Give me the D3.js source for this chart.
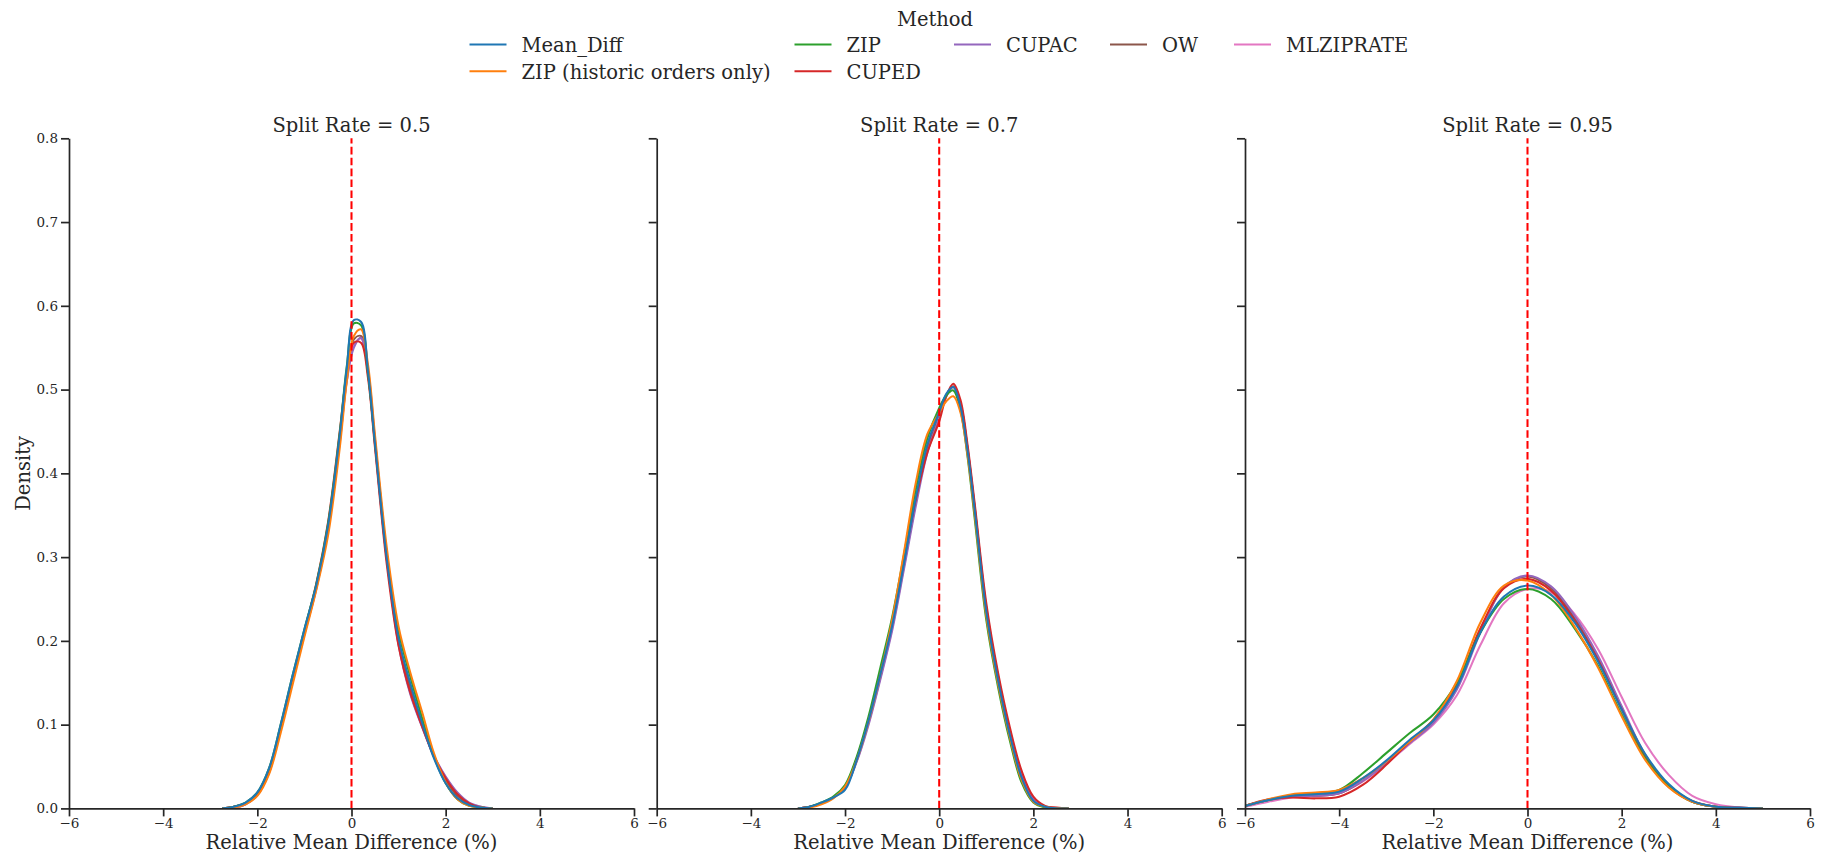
<!DOCTYPE html>
<html>
<head>
<meta charset="utf-8">
<script src="https://cdn.jsdelivr.net/npm/d3@7"></script>
<style>
  html, body { margin: 0; padding: 0; background: #ffffff; }
  svg { display: block; }
  text { font-family: "DejaVu Serif", serif; fill: #262626; }
</style>
</head>
<body>
<svg id="chart" width="1829" height="857"></svg>
<script>
// ---------------- data ----------------
const methods = ["Mean_Diff", "ZIP (historic orders only)", "ZIP", "CUPED", "CUPAC", "OW", "MLZIPRATE"];
const methodColors = ["#1f77b4", "#ff7f0e", "#2ca02c", "#d62728", "#9467bd", "#8c564b", "#e377c2"];
const splitRates = ["0.5", "0.7", "0.95"];
const xTicks = [-6, -4, -2, 0, 2, 4, 6];
const yTicks = [0.0, 0.1, 0.2, 0.3, 0.4, 0.5, 0.6, 0.7, 0.8];
const legendTitle = "Method";
const xLabel = "Relative Mean Difference (%)";
const yLabel = "Density";

// Split Rate = 0.5
const gridSplit05 = [-2.75,-2.5,-2.25,-2,-1.75,-1.5,-1.25,-1,-0.75,-0.5,-0.25,-0.1,0.05,0.2,0.35,0.5,0.75,1,1.25,1.5,1.75,2,2.25,2.5,2.75,3];
const s05_MeanDiff = [0.000,0.002,0.007,0.019,0.048,0.101,0.159,0.214,0.266,0.337,0.446,0.526,0.583,0.581,0.522,0.435,0.298,0.203,0.149,0.102,0.060,0.030,0.012,0.004,0.001,0.000];
const s05_ZIPhist   = [0.000,0.001,0.005,0.015,0.041,0.091,0.148,0.205,0.260,0.325,0.430,0.510,0.564,0.572,0.530,0.445,0.311,0.217,0.162,0.115,0.066,0.031,0.011,0.003,0.001,0.000];
const s05_ZIP       = [0.000,0.002,0.007,0.019,0.048,0.101,0.159,0.214,0.267,0.339,0.448,0.528,0.579,0.577,0.520,0.437,0.304,0.211,0.157,0.108,0.062,0.030,0.011,0.003,0.001,0.000];
const s05_CUPED     = [0.000,0.002,0.006,0.017,0.045,0.098,0.156,0.212,0.268,0.341,0.450,0.520,0.556,0.556,0.514,0.430,0.291,0.194,0.138,0.098,0.062,0.036,0.017,0.006,0.001,0.000];
const s05_CUPAC     = [0.000,0.001,0.005,0.016,0.043,0.096,0.153,0.208,0.262,0.332,0.436,0.510,0.550,0.562,0.524,0.440,0.300,0.195,0.136,0.097,0.063,0.038,0.019,0.007,0.002,0.000];
const s05_OW        = [0.000,0.002,0.006,0.017,0.045,0.098,0.156,0.211,0.265,0.336,0.443,0.517,0.560,0.564,0.519,0.434,0.297,0.199,0.143,0.100,0.062,0.034,0.015,0.005,0.001,0.000];
const s05_MLZIPRATE = [0.000,0.001,0.005,0.016,0.043,0.096,0.153,0.208,0.262,0.333,0.438,0.511,0.553,0.561,0.522,0.438,0.300,0.197,0.138,0.098,0.063,0.037,0.018,0.006,0.002,0.000];

// Split Rate = 0.7
const gridSplit07 = [-3.0,-2.75,-2.5,-2.25,-2,-1.75,-1.5,-1.25,-1,-0.75,-0.5,-0.25,0,0.15,0.3,0.45,0.6,0.75,1,1.25,1.5,1.75,2,2.25,2.5,2.75];
const s07_MeanDiff = [0.000,0.002,0.007,0.013,0.022,0.058,0.105,0.160,0.218,0.292,0.370,0.435,0.473,0.495,0.503,0.480,0.428,0.358,0.235,0.153,0.088,0.037,0.009,0.002,0.000,0.000];
const s07_ZIPhist   = [0.000,0.001,0.005,0.012,0.026,0.058,0.104,0.160,0.225,0.305,0.388,0.447,0.472,0.486,0.492,0.473,0.423,0.353,0.230,0.149,0.085,0.034,0.008,0.002,0.000,0.000];
const s07_ZIP       = [0.000,0.002,0.007,0.014,0.028,0.062,0.110,0.168,0.228,0.302,0.380,0.442,0.478,0.493,0.499,0.476,0.421,0.348,0.225,0.145,0.081,0.031,0.007,0.001,0.000,0.000];
const s07_CUPED     = [0.000,0.002,0.006,0.013,0.026,0.060,0.106,0.162,0.222,0.295,0.368,0.425,0.462,0.492,0.507,0.488,0.435,0.366,0.245,0.162,0.097,0.045,0.014,0.003,0.001,0.000];
const s07_CUPAC     = [0.000,0.002,0.006,0.013,0.025,0.056,0.100,0.154,0.212,0.285,0.360,0.425,0.466,0.492,0.503,0.484,0.431,0.362,0.240,0.158,0.093,0.041,0.011,0.002,0.000,0.000];
const s07_OW        = [0.000,0.002,0.006,0.013,0.025,0.058,0.104,0.158,0.217,0.290,0.366,0.430,0.468,0.493,0.504,0.484,0.430,0.360,0.238,0.156,0.091,0.039,0.010,0.002,0.000,0.000];
const s07_MLZIPRATE = [0.000,0.002,0.006,0.013,0.025,0.057,0.102,0.156,0.215,0.288,0.364,0.428,0.467,0.492,0.503,0.484,0.431,0.361,0.239,0.157,0.092,0.040,0.011,0.002,0.000,0.000];

// Split Rate = 0.95
const gridSplit095 = [-6,-5.5,-5,-4.5,-4,-3.5,-3,-2.5,-2,-1.5,-1,-0.5,0,0.5,1,1.5,2,2.5,3,3.5,4,4.5,5];
const s095_MeanDiff = [0.003,0.010,0.015,0.017,0.020,0.036,0.057,0.082,0.105,0.145,0.210,0.253,0.266,0.255,0.222,0.175,0.118,0.065,0.029,0.009,0.002,0.001,0.000];
const s095_ZIPhist   = [0.003,0.011,0.017,0.019,0.022,0.036,0.056,0.080,0.106,0.152,0.222,0.266,0.272,0.255,0.217,0.168,0.110,0.058,0.025,0.008,0.002,0.000,0.000];
const s095_ZIP       = [0.003,0.010,0.016,0.018,0.022,0.042,0.066,0.090,0.112,0.150,0.210,0.250,0.262,0.250,0.215,0.170,0.112,0.060,0.026,0.008,0.002,0.000,0.000];
const s095_CUPED     = [0.003,0.011,0.013,0.012,0.014,0.028,0.052,0.080,0.106,0.148,0.215,0.263,0.274,0.260,0.224,0.177,0.118,0.063,0.027,0.009,0.002,0.001,0.000];
const s095_CUPAC     = [0.003,0.010,0.014,0.015,0.018,0.033,0.054,0.078,0.102,0.142,0.210,0.264,0.278,0.265,0.230,0.182,0.122,0.064,0.027,0.008,0.002,0.000,0.000];
const s095_OW        = [0.003,0.010,0.014,0.015,0.018,0.033,0.055,0.079,0.103,0.144,0.212,0.264,0.277,0.263,0.227,0.180,0.120,0.063,0.027,0.008,0.002,0.000,0.000];
const s095_MLZIPRATE = [0.002,0.008,0.013,0.015,0.018,0.032,0.053,0.077,0.100,0.135,0.195,0.245,0.262,0.258,0.232,0.190,0.133,0.078,0.040,0.015,0.005,0.001,0.000];

// ---------------- assemble ----------------
const panels = [
  { rate: splitRates[0], grid: gridSplit05,
    series: [s05_MeanDiff, s05_ZIPhist, s05_ZIP, s05_CUPED, s05_CUPAC, s05_OW, s05_MLZIPRATE] },
  { rate: splitRates[1], grid: gridSplit07,
    series: [s07_MeanDiff, s07_ZIPhist, s07_ZIP, s07_CUPED, s07_CUPAC, s07_OW, s07_MLZIPRATE] },
  { rate: splitRates[2], grid: gridSplit095,
    series: [s095_MeanDiff, s095_ZIPhist, s095_ZIP, s095_CUPED, s095_CUPAC, s095_OW, s095_MLZIPRATE] }
];

// ---------------- layout ----------------
const svg = d3.select("#chart");
const panelLeft = [69, 656.7, 1245];
const panelW = 565;
const plotTop = 138.3, plotBottom = 808.4;
const ink = "#262626";
const fontMain = 19.5, fontTick = 13.5;

const y = d3.scaleLinear().domain([0, 0.8]).range([plotBottom, plotTop]);

const defs = svg.append("defs");

panels.forEach((p, pi) => {
  const x = d3.scaleLinear().domain([-6, 6]).range([panelLeft[pi], panelLeft[pi] + panelW]);
  const g = svg.append("g");

  defs.append("clipPath").attr("id", "clip" + pi)
    .append("rect")
    .attr("x", x(-6)).attr("y", plotTop - 2)
    .attr("width", panelW).attr("height", plotBottom - plotTop + 2);

  const line = d3.line()
    .x((d, i) => x(p.grid[i]))
    .y(d => y(d))
    .curve(d3.curveCatmullRom.alpha(0.5));

  // draw in reverse order so first method is on top
  const curves = g.append("g").attr("clip-path", `url(#clip${pi})`);
  for (let m = methods.length - 1; m >= 0; m--) {
    curves.append("path")
      .attr("d", line(p.series[m]))
      .attr("fill", "none")
      .attr("stroke", methodColors[m])
      .attr("stroke-width", 2.05)
      .attr("stroke-linejoin", "round");
  }

  // red dashed reference line at 0
  g.append("line")
    .attr("x1", x(0)).attr("x2", x(0))
    .attr("y1", y(0)).attr("y2", y(0.8))
    .attr("stroke", "#ff0000")
    .attr("stroke-width", 2.05)
    .attr("stroke-dasharray", "7.6,3.3");

  // x axis
  const xa = g.append("g")
    .attr("transform", `translate(0,${plotBottom})`)
    .call(d3.axisBottom(x).tickValues(xTicks).tickFormat(d3.format("d"))
      .tickSize(8).tickSizeOuter(0).tickPadding(2.5));
  xa.select(".domain").attr("stroke", ink).attr("stroke-width", 1.7);
  xa.selectAll(".tick line").attr("stroke", ink).attr("stroke-width", 1.7);
  xa.selectAll(".tick text").attr("font-size", fontTick).attr("font-family", "DejaVu Serif").attr("fill", ink);

  // y axis
  const ya = g.append("g")
    .attr("transform", `translate(${x(-6)},0)`)
    .call(d3.axisLeft(y).tickValues(yTicks)
      .tickFormat(pi === 0 ? d3.format(".1f") : () => "")
      .tickSize(8).tickSizeOuter(0).tickPadding(3));
  ya.select(".domain").attr("stroke", ink).attr("stroke-width", 1.7);
  ya.selectAll(".tick line").attr("stroke", ink).attr("stroke-width", 1.7);
  ya.selectAll(".tick text").attr("font-size", fontTick).attr("font-family", "DejaVu Serif").attr("fill", ink);

  // title
  g.append("text")
    .attr("x", x(0)).attr("y", 132)
    .attr("text-anchor", "middle")
    .attr("font-size", fontMain)
    .text("Split Rate = " + p.rate);

  // x label
  g.append("text")
    .attr("x", x(0)).attr("y", 849)
    .attr("text-anchor", "middle")
    .attr("font-size", fontMain)
    .text(xLabel);
});

// y label
svg.append("text")
  .attr("transform", `translate(29.5,${(plotTop + plotBottom) / 2}) rotate(-90)`)
  .attr("text-anchor", "middle")
  .attr("font-size", fontMain)
  .text(yLabel);

// ---------------- legend ----------------
const legend = svg.append("g");
legend.append("text")
  .attr("x", 935).attr("y", 25.5)
  .attr("text-anchor", "middle")
  .attr("font-size", fontMain)
  .text(legendTitle);

const colX = [469.5, 794.5, 954, 1110, 1234];
const rowY = [44.5, 71.3];
const legendSlots = [[0,0],[0,1],[1,0],[1,1],[2,0],[3,0],[4,0]];
methods.forEach((m, i) => {
  const [c, r] = legendSlots[i];
  const lx = colX[c], ly = rowY[r];
  legend.append("line")
    .attr("x1", lx).attr("x2", lx + 37)
    .attr("y1", ly).attr("y2", ly)
    .attr("stroke", methodColors[i])
    .attr("stroke-width", 2.05);
  legend.append("text")
    .attr("x", lx + 52).attr("y", ly + 7.3)
    .attr("font-size", fontMain)
    .text(m);
});
</script>
</body>
</html>
